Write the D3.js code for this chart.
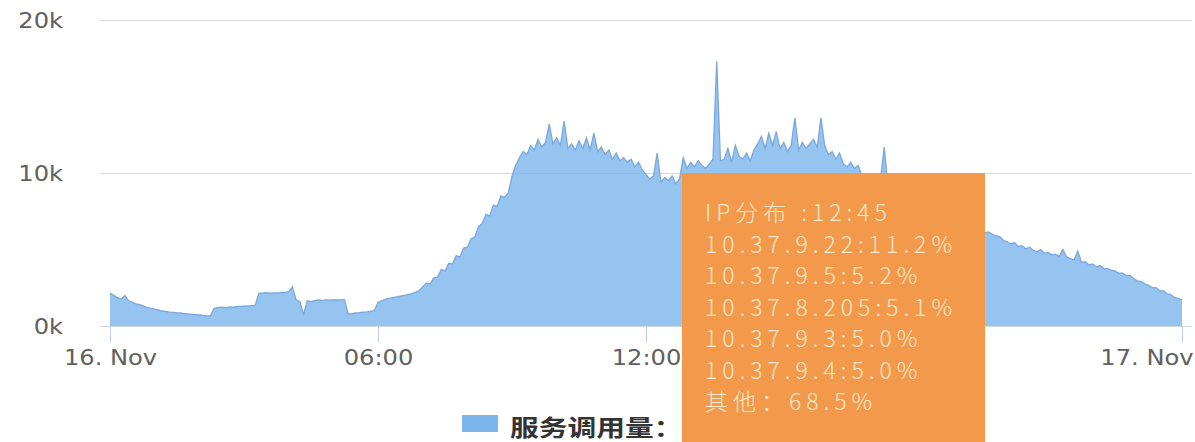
<!DOCTYPE html>
<html>
<head>
<meta charset="utf-8">
<script src="https://cdn.jsdelivr.net/npm/d3@7/dist/d3.min.js"></script>
<style>
html,body{margin:0;padding:0;background:#fff;overflow:hidden;}
svg{display:block;}
</style>
</head>
<body>
<svg id="chart" width="1195" height="442"></svg>
<script>
// ---------------- data ----------------
const startTime = new Date(2016, 10, 16, 0, 0);
const stepMinutes = 5;
// service calls every 5 minutes, 16 Nov 00:00 -> 17 Nov 00:00
const serviceCalls = [
  2150, 2000, 1850, 1750, 2000, 1650, 1550, 1450, 1400, 1300, 1200, 1150,   // 00h
  1100, 1060, 980, 960, 910, 890, 850, 860, 800, 790, 760, 750,             // 01h
  720, 690, 670, 660, 1150, 1200, 1230, 1180, 1250, 1240, 1270, 1280,       // 02h
  1290, 1300, 1330, 1340, 2150, 2150, 2180, 2150, 2160, 2150, 2200, 2180,   // 03h
  2250, 2550, 1700, 1600, 750, 1650, 1600, 1650, 1700, 1680, 1700, 1690,    // 04h
  1700, 1710, 1700, 1720, 780, 800, 850, 870, 900, 920, 960, 1000,          // 05h
  1550, 1650, 1750, 1800, 1850, 1900, 1950, 2000, 2050, 2100, 2200, 2300,   // 06h
  2550, 2800, 2750, 3150, 3200, 3700, 3600, 4100, 4050, 4600, 4500, 5100,   // 07h
  5150, 5700, 5800, 6500, 6700, 7300, 7200, 7900, 7800, 8500, 8400, 8700,   // 08h
  9800, 10500, 11000, 11400, 11200, 11800, 11500, 12200, 11700, 12000, 13200, 11900, // 09h
  12300, 11800, 13400, 11600, 11900, 11500, 12100, 11600, 12300, 11500, 12600, 11400, // 10h
  11700, 11200, 11500, 10900, 11300, 10800, 11000, 10700, 10900, 10400, 10700, 10200, // 11h
  9900, 9600, 9800, 11300, 9400, 9700, 9500, 9800, 9300, 9600, 11000, 10300,          // 12h
  10700, 10400, 10800, 10500, 10300, 10600, 10900, 17300, 10800, 10900, 11600, 10700, // 13h
  11800, 11100, 10900, 11300, 10800, 11500, 11900, 12400, 11600, 12600, 11800, 12700, // 14h
  11600, 12000, 11400, 11800, 13600, 11500, 12000, 11600, 11900, 12200, 11700, 13600, // 15h
  11800, 11200, 11400, 10900, 11300, 10600, 10400, 10700, 10300, 10500, 9800, 9600,   // 16h
  9500, 9300, 9200, 9600, 11700, 9100, 9000, 8800, 8900, 8700, 8600, 8500,            // 17h
  8300, 8100, 7900, 7800, 7600, 7400, 7300, 7100, 7000, 6900, 6800, 6700,             // 18h
  6600, 6500, 6450, 6350, 6300, 6250, 6200, 6100, 6150, 6000, 5900, 5850,             // 19h
  5600, 5500, 5350, 5450, 5200, 5250, 5050, 5150, 4950, 4850, 5000, 4750,             // 20h
  4800, 4650, 4700, 4550, 5000, 4500, 4400, 4300, 4900, 4150, 4200, 4000,             // 21h
  4050, 3850, 3950, 3750, 3750, 3650, 3600, 3450, 3450, 3300, 3300, 3100,             // 22h
  2950, 2900, 2750, 2650, 2500, 2500, 2300, 2300, 2100, 2050, 1850, 1800,             // 23h
  1700
];
const yTicks = [0, 10000, 20000];
const yTickLabels = ["0k", "10k", "20k"];
const xTickHours = [0, 6, 12, 18, 24];
const xTickLabels = ["16. Nov", "06:00", "12:00", "18:00", "17. Nov"];
const hiddenXLabels = ["18:00"];   // covered by the tooltip in the picture
const seriesName = "服务调用量：";
const tooltipLines = ["IP分布 :12:45", "10.37.9.22:11.2%", "10.37.9.5:5.2%", "10.37.8.205:5.1%", "10.37.9.3:5.0%", "10.37.9.4:5.0%", "其他：68.5%"];

// ---------------- chart ----------------
const svg = d3.select("#chart");
const points = serviceCalls.map((v, i) => ({ t: d3.timeMinute.offset(startTime, i * stepMinutes), v }));

const x = d3.scaleTime().domain([startTime, d3.timeDay.offset(startTime, 1)]).range([110, 1182]);
const y = d3.scaleLinear().domain([0, 20000]).range([326, 20]);
const gridLeft = 100, gridRight = 1192;

const axisFont = "'DejaVu Sans', Verdana, sans-serif";
const stretch = 1.15;

// grid lines + y labels
const yAxis = svg.append("g").attr("transform", `translate(${gridLeft},0)`)
  .call(d3.axisLeft(y).tickValues(yTicks).tickSize(-(gridRight - gridLeft))
    .tickFormat((d, i) => yTickLabels[i]));
yAxis.select(".domain").remove();
yAxis.selectAll(".tick line").attr("stroke", "#d9d9d9").attr("stroke-width", 1);
yAxis.selectAll(".tick text")
  .attr("x", -37 / stretch).attr("dy", null).attr("y", 7.5)
  .attr("transform", `scale(${stretch},1)`)
  .attr("fill", "#606060").attr("font-family", axisFont).attr("font-size", 21)
  .attr("text-anchor", "end");

// area
const area = d3.area().x(d => x(d.t)).y0(y(0)).y1(d => y(d.v));
const line = d3.line().x(d => x(d.t)).y(d => y(d.v));
svg.append("path").datum(points).attr("d", area)
  .attr("fill", "#7cb5ec").attr("fill-opacity", 0.8);
svg.append("path").datum(points).attr("d", line)
  .attr("fill", "none").attr("stroke", "#7aa8dc").attr("stroke-width", 1.3);

// x axis
const xAxis = svg.append("g").attr("transform", `translate(0,${y(0)})`)
  .call(d3.axisBottom(x)
    .tickValues(xTickHours.map(h => d3.timeHour.offset(startTime, h)))
    .tickSize(16).tickSizeOuter(0)
    .tickFormat((d, i) => xTickLabels[i]));
xAxis.select(".domain").attr("d", `M${gridLeft},0.5H${gridRight}`).attr("stroke", "#ccd6e0");
xAxis.selectAll(".tick line").attr("stroke", "#c0d0e0");
xAxis.selectAll(".tick text")
  .attr("y", 39).attr("dy", null)
  .attr("transform", `scale(${stretch},1)`)
  .attr("fill", "#606060").attr("font-family", axisFont).attr("font-size", 21);
xAxis.selectAll(".tick text").filter((d, i) => i === xTickLabels.length - 1)
  .attr("text-anchor", "end").attr("x", 11 / stretch);
xAxis.selectAll(".tick text").filter((d, i) => hiddenXLabels.includes(xTickLabels[i])).remove();

// legend
const legend = svg.append("g");
legend.append("rect").attr("x", 462).attr("y", 415).attr("width", 36).attr("height", 17).attr("fill", "#7cb5ec");
legend.append("text").text(seriesName)
  .attr("transform", "translate(510,436) scale(1.25,1)")
  .attr("font-family", "'Noto Sans CJK SC', sans-serif").attr("font-weight", "bold")
  .attr("font-size", 23).attr("fill", "#333");

// tooltip
const tip = svg.append("g");
tip.append("rect").attr("x", 682).attr("y", 173).attr("width", 303).attr("height", 280).attr("fill", "#f2994b");
const tipTexts = tip.selectAll("text").data(tooltipLines).join("text")
  .text(d => d)
  .attr("x", 705).attr("y", (d, i) => 221 + i * 31.5)
  .attr("font-family", "'Noto Sans CJK SC', sans-serif").attr("font-weight", 300)
  .attr("font-size", 23).attr("fill", "#fae8c8");
// letter spacing so that the widest IP line spans like the picture
const ref = tipTexts.filter((d, i) => i === 1).node();
const w0 = ref.getComputedTextLength();
const ls = Math.max(0, (252 - w0) / tooltipLines[1].length);
tipTexts.attr("letter-spacing", ls);
</script>
</body>
</html>
